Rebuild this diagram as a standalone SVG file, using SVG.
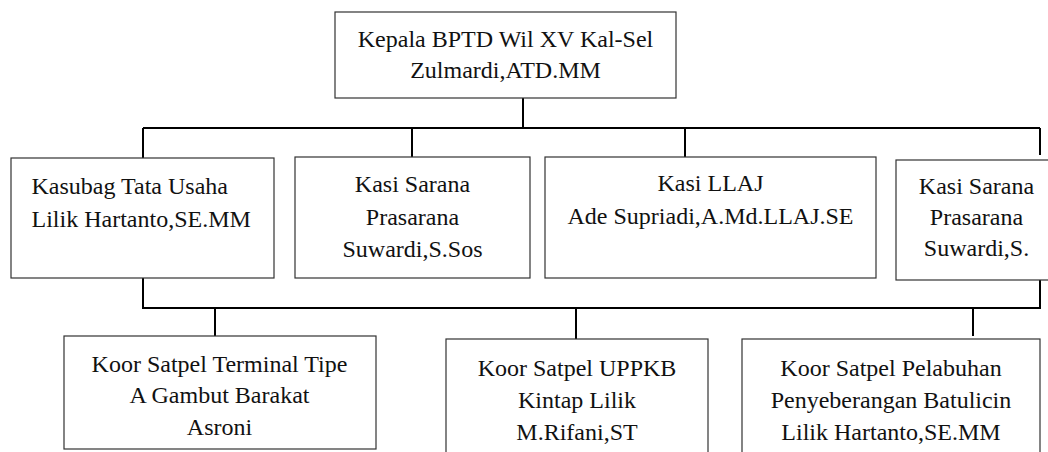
<svg xmlns="http://www.w3.org/2000/svg" width="1048" height="452" viewBox="0 0 1048 452">
<style>
.box{fill:#fff;stroke:#333;stroke-width:1.2}
.t{font-size:24px;fill:#111}
.c{text-anchor:middle}
.conn{fill:none;stroke:#000;stroke-width:2}
</style>
<rect width="1048" height="452" fill="#fff"/>
<g id="connectors" class="conn">
<path d="M523,98 V128 M143,128 H1040 M143,128 V158 M412,128 V157 M685,128 V157 M1040,128 V155"/>
<path d="M143,278 V308 H1040 V280 M215,308 V336 M576,308 V339 M973,308 V336"/>
</g>
<g font-family="Liberation Serif, Times New Roman, Tinos, Noto Serif, DejaVu Serif, serif">
<g id="kepala">
<rect class="box" x="335" y="12" width="341" height="86"/>
<text class="t c" x="505.5" y="47">Kepala BPTD Wil XV Kal-Sel</text>
<text class="t c" x="505.5" y="78">Zulmardi,ATD.MM</text>
</g>
<g id="kasubag">
<rect class="box" x="11" y="158" width="263" height="120"/>
<text class="t" x="31.5" y="194">Kasubag Tata Usaha</text>
<text class="t" x="31.5" y="227">Lilik Hartanto,SE.MM</text>
</g>
<g id="kasi-sarana">
<rect class="box" x="295" y="157" width="235" height="121"/>
<text class="t c" x="412.5" y="192">Kasi Sarana</text>
<text class="t c" x="412.5" y="225">Prasarana</text>
<text class="t c" x="412.5" y="257">Suwardi,S.Sos</text>
</g>
<g id="kasi-llaj">
<rect class="box" x="545" y="157" width="331" height="121"/>
<text class="t c" x="710.5" y="191">Kasi LLAJ</text>
<text class="t c" x="710.5" y="224">Ade Supriadi,A.Md.LLAJ.SE</text>
</g>
<g id="kasi-sarana-2">
<rect class="box" x="896" y="160" width="161" height="120"/>
<text class="t c" x="976.5" y="194">Kasi Sarana</text>
<text class="t c" x="976.5" y="225">Prasarana</text>
<text class="t c" x="976.5" y="256">Suwardi,S.</text>
</g>
<g id="koor-terminal">
<rect class="box" x="64" y="336" width="312" height="113"/>
<text class="t c" x="219.5" y="372">Koor Satpel Terminal Tipe</text>
<text class="t c" x="219.5" y="403">A Gambut Barakat</text>
<text class="t c" x="219.5" y="435">Asroni</text>
</g>
<g id="koor-uppkb">
<rect class="box" x="446" y="339" width="262" height="130"/>
<text class="t c" x="577" y="376">Koor Satpel UPPKB</text>
<text class="t c" x="577" y="408">Kintap Lilik</text>
<text class="t c" x="577" y="440">M.Rifani,ST</text>
</g>
<g id="koor-pelabuhan">
<rect class="box" x="742" y="339" width="298" height="130"/>
<text class="t c" x="891" y="376">Koor Satpel Pelabuhan</text>
<text class="t c" x="891" y="408">Penyeberangan Batulicin</text>
<text class="t c" x="891" y="440">Lilik Hartanto,SE.MM</text>
</g>
</g>
</svg>
